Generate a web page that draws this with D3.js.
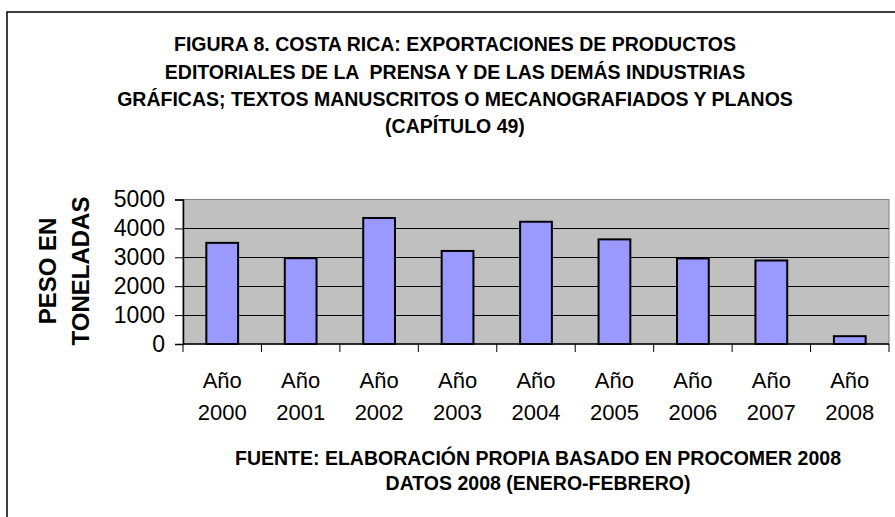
<!DOCTYPE html>
<html>
<head>
<meta charset="utf-8">
<script src="https://cdn.jsdelivr.net/npm/d3@7"></script>
<style>
  html, body { margin: 0; padding: 0; background: #fff; }
  svg { display: block; font-family: "Liberation Sans", Arial, sans-serif; }
</style>
</head>
<body>
<svg id="chart" width="895" height="517"></svg>
<script>
// ---- data ----
const categories = ["Año 2000", "Año 2001", "Año 2002", "Año 2003", "Año 2004", "Año 2005", "Año 2006", "Año 2007", "Año 2008"];
const pesoToneladas = [3500, 2970, 4360, 3220, 4230, 3620, 2960, 2890, 270];
const yTicks = [0, 1000, 2000, 3000, 4000, 5000];
const titleLines = [
  "FIGURA 8. COSTA RICA: EXPORTACIONES DE PRODUCTOS",
  "EDITORIALES DE LA  PRENSA Y DE LAS DEMÁS INDUSTRIAS",
  "GRÁFICAS; TEXTOS MANUSCRITOS O MECANOGRAFIADOS Y PLANOS",
  "(CAPÍTULO 49)"
];
const yTitleLines = ["PESO EN", "TONELADAS"];
const footerLines = [
  "FUENTE: ELABORACIÓN PROPIA BASADO EN PROCOMER 2008",
  "DATOS 2008 (ENERO-FEBRERO)"
];

// ---- layout ----
const svg = d3.select("#chart");
const plot = { left: 183, right: 889, top: 199.5, bottom: 344 };

// outer frame (only left & top visible)
svg.append("rect")
  .attr("x", 7).attr("y", 12).attr("width", 1000).attr("height", 1000)
  .attr("fill", "none").attr("stroke", "#000").attr("stroke-width", 1.5);

const x = d3.scaleBand().domain(categories).range([plot.left, plot.right]).padding(0);
const y = d3.scaleLinear().domain([0, 5000]).range([plot.bottom, plot.top]);

// plot background
svg.append("rect")
  .attr("x", plot.left).attr("y", plot.top)
  .attr("width", plot.right - plot.left).attr("height", plot.bottom - plot.top)
  .attr("fill", "#C0C0C0").attr("stroke", "#808080").attr("stroke-width", 1);

// gridlines
svg.append("g").selectAll("line")
  .data(yTicks.filter(d => d > 0 && d < 5000))
  .join("line")
  .attr("x1", plot.left).attr("x2", plot.right)
  .attr("y1", d => Math.round(y(d)) + 0.5).attr("y2", d => Math.round(y(d)) + 0.5)
  .attr("stroke", "#000").attr("stroke-width", 1);

// bars
const bw = x.bandwidth() * 0.405;
svg.append("g").selectAll("rect")
  .data(categories.map((c, i) => ({ c, v: pesoToneladas[i] })))
  .join("rect")
  .attr("x", d => x(d.c) + x.bandwidth() / 2 - bw / 2)
  .attr("y", d => y(d.v))
  .attr("width", bw)
  .attr("height", d => y(0) - y(d.v))
  .attr("fill", "#9999FF")
  .attr("stroke", "#000")
  .attr("stroke-width", 2);

// y axis
const yAxis = d3.axisLeft(y).tickValues(yTicks).tickSize(8).tickPadding(10).tickFormat(d3.format("d"));
const gy = svg.append("g").attr("transform", `translate(${plot.left},0)`).call(yAxis);
gy.select(".domain").attr("stroke", "#000").attr("stroke-width", 1.5);
gy.selectAll(".tick line").attr("stroke", "#000");
gy.selectAll(".tick text")
  .attr("font-family", "'Liberation Sans', Arial, sans-serif")
  .attr("font-size", 23).attr("fill", "#000");

// x axis (ticks at category boundaries)
const bounds = categories.map(c => x(c)).concat([plot.right]);
svg.append("line")
  .attr("x1", plot.left).attr("x2", plot.right)
  .attr("y1", plot.bottom).attr("y2", plot.bottom)
  .attr("stroke", "#000").attr("stroke-width", 1.5);
svg.append("g").selectAll("line").data(bounds).join("line")
  .attr("x1", d => d).attr("x2", d => d)
  .attr("y1", plot.bottom).attr("y2", plot.bottom + 8)
  .attr("stroke", "#000").attr("stroke-width", 1);

// x labels
const xl = svg.append("g").selectAll("text").data(categories).join("text")
  .attr("text-anchor", "middle")
  .attr("font-size", 22)
  .attr("fill", "#000");
xl.each(function (d) {
  const parts = d.split(" ");
  const t = d3.select(this);
  const cx = x(d) + x.bandwidth() / 2;
  t.append("tspan").attr("x", cx).attr("y", 388).text(parts[0]);
  t.append("tspan").attr("x", cx).attr("y", 420).text(parts[1]);
});

// title
svg.append("g").selectAll("text").data(titleLines).join("text")
  .attr("x", 455)
  .attr("y", (d, i) => [51, 78.5, 106, 133][i])
  .attr("text-anchor", "middle")
  .attr("font-weight", "bold")
  .attr("font-size", 19.5)
  .attr("fill", "#000")
  .attr("xml:space", "preserve")
  .style("white-space", "pre")
  .text(d => d);

// y title
svg.append("g").selectAll("text").data(yTitleLines).join("text")
  .attr("transform", (d, i) => `translate(${[55.5, 88.5][i]},271) rotate(-90)`)
  .attr("text-anchor", "middle")
  .attr("font-weight", "bold")
  .attr("font-size", 24)
  .attr("fill", "#000")
  .text(d => d);

// footer
svg.append("g").selectAll("text").data(footerLines).join("text")
  .attr("x", 538)
  .attr("y", (d, i) => [465, 490][i])
  .attr("text-anchor", "middle")
  .attr("font-weight", "bold")
  .attr("font-size", 19.5)
  .attr("fill", "#000")
  .text(d => d);
</script>
</body>
</html>
